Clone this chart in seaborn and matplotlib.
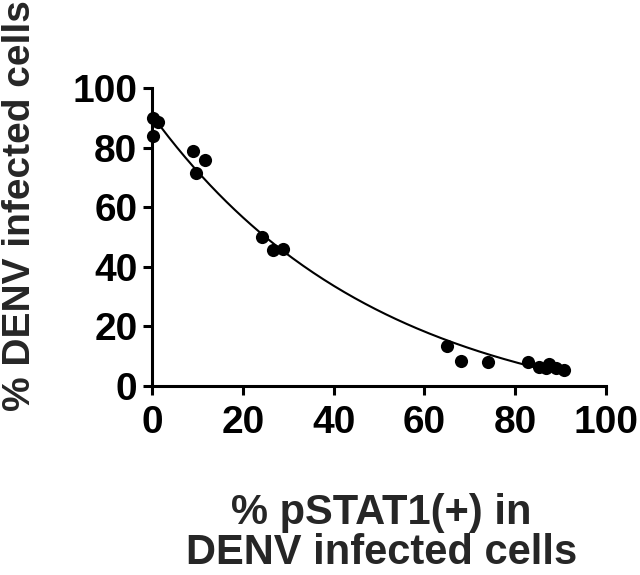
import numpy as np
import pandas as pd
import matplotlib
matplotlib.use("Agg")
import matplotlib.pyplot as plt
import seaborn as sns

# data
pstat1_pct = [0.3, 0.3, 1.3, 9.0, 11.7, 9.7, 24.3, 26.7, 28.9,
              64.9, 68.0, 73.9, 82.8, 85.2, 86.8, 87.4, 89.0, 90.7]
denv_pct = [90.0, 84.0, 88.5, 79.0, 76.0, 71.5, 50.0, 45.5, 46.0,
            13.5, 8.5, 8.0, 8.0, 6.5, 6.0, 7.5, 6.0, 5.3]
ticks = [0, 20, 40, 60, 80, 100]

df = pd.DataFrame({"pstat1": pstat1_pct, "denv": denv_pct})

# one-phase decay fit: y = span*exp(-k x) + plateau (grid over k, lstsq for the rest)
x = df["pstat1"].to_numpy()
y = df["denv"].to_numpy()
best = None
for k in np.linspace(0.001, 0.1, 2000):
    A = np.column_stack([np.exp(-k * x), np.ones_like(x)])
    coef, res, _, _ = np.linalg.lstsq(A, y, rcond=None)
    sse = np.sum((A @ coef - y) ** 2)
    if best is None or sse < best[0]:
        best = (sse, k, coef)
_, k_fit, (span, plateau) = best
xs = np.linspace(0, x.max(), 200)
fit = pd.DataFrame({"pstat1": xs, "denv": span * np.exp(-k_fit * xs) + plateau})

sns.set_style("ticks")
plt.rcParams['font.family'] = ['Liberation Sans', 'DejaVu Sans']
plt.rcParams['font.weight'] = 'bold'

fig = plt.figure(figsize=(6.4, 5.75), dpi=100)
ax = fig.add_axes([152 / 640, 1 - 386 / 575, (606 - 152) / 640, (386 - 88) / 575])

sns.lineplot(data=fit, x="pstat1", y="denv", ax=ax, color="black", linewidth=1.5)
sns.scatterplot(data=df, x="pstat1", y="denv", ax=ax, color="black", s=90,
                edgecolor="black", linewidth=0, zorder=3, clip_on=False)

ax.set_xlim(0, 100)
ax.set_ylim(0, 100)
ax.set_xticks(ticks)
ax.set_yticks(ticks)
ax.set_xticklabels([str(t) for t in ticks], fontsize=28, fontweight='bold')
ax.set_yticklabels([str(t) for t in ticks], fontsize=28, fontweight='bold')
ax.tick_params(direction='out', length=6.5, width=2.2, colors='black')
ax.tick_params(axis='x', pad=7)
ax.tick_params(axis='y', pad=4)
for side in ["left", "bottom"]:
    ax.spines[side].set_linewidth(2.2)
    ax.spines[side].set_color("black")
sns.despine(ax=ax)
ax.set_xlabel("")
ax.set_ylabel("")

fig.text(381 / 640, 1 - 524 / 575, "% pSTAT1(+) in",
         ha='center', va='baseline', fontsize=30, fontweight='bold')
fig.text(382 / 640, 1 - 564 / 575, "DENV infected cells",
         ha='center', va='baseline', fontsize=30, fontweight='bold')
fig.text(20 / 640, 1 - 411 / 575, "% DENV infected cells", rotation=90,
         ha='center', va='bottom', fontsize=28, fontweight='bold')

fig.savefig("out.png", dpi=100, facecolor="white")
